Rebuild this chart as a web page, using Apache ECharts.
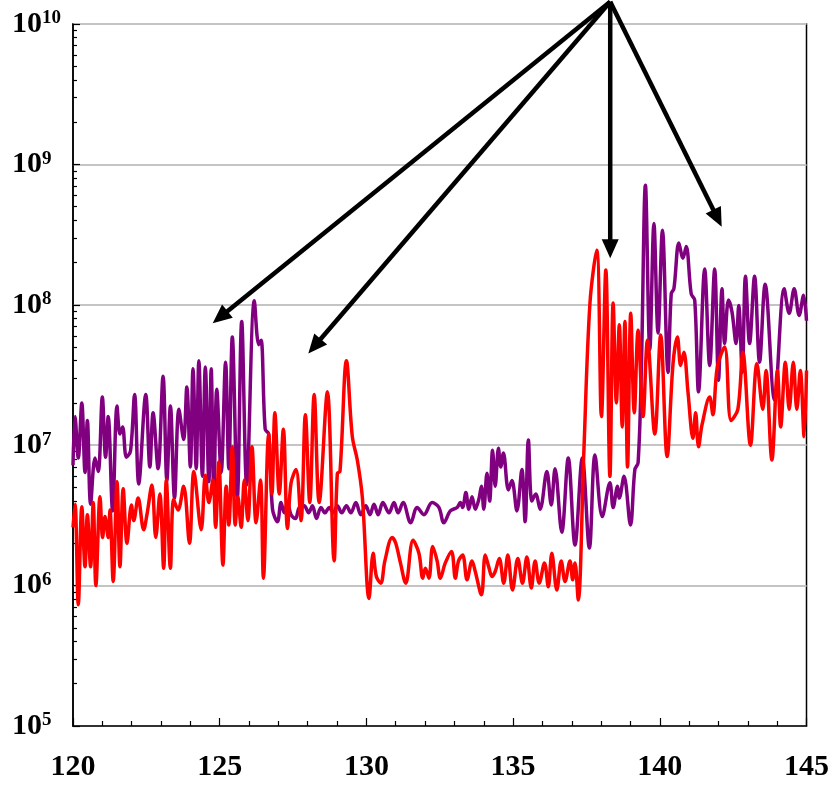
<!DOCTYPE html>
<html>
<head>
<meta charset="utf-8">
<script src="https://cdn.jsdelivr.net/npm/echarts@6/dist/echarts.min.js"></script>
<style>
html,body{margin:0;padding:0;background:#fff;}
#chart{width:832px;height:786px;}
</style>
</head>
<body>
<div id="chart"></div>
<script>
// ---- data (x, value) ----
const purple = [
[120.00,7.2e6],[120.07,1.6e7],[120.18,8.1e6],[120.30,2.0e7],[120.41,6.4e6],[120.49,1.5e7],[120.60,3.8e6],[120.75,8.1e6],[120.86,6.5e6],[121.00,2.2e7],
[121.11,8.2e6],[121.20,1.6e7],[121.35,3.4e6],[121.50,1.9e7],[121.60,1.2e7],[121.69,1.35e7],[121.82,8.2e6],[121.96,9.1e6],[122.10,2.3e7],[122.24,5.3e6],
[122.48,2.3e7],[122.62,7.0e6],[122.73,1.7e7],[122.90,6.8e6],[123.07,3.1e7],[123.20,5.6e6],[123.32,1.9e7],[123.46,4.2e6],[123.61,1.8e7],[123.77,1.1e7],
[123.88,2.6e7],[124.00,7.0e6],[124.09,3.5e7],[124.20,6.8e6],[124.29,4.0e7],[124.41,6.0e6],[124.51,3.6e7],[124.63,5.5e6],[124.71,3.5e7],[124.80,4.5e6],
[124.90,2.5e7],[125.05,6.4e6],[125.20,3.9e7],[125.31,6.8e6],[125.43,5.9e7],[125.60,4.2e6],[125.75,7.6e7],[125.92,5.2e6],[126.18,1.07e8],[126.33,5.2e7],
[126.41,5.6e7],[126.55,1.3e7],[126.67,1.2e7],[126.80,3.5e6],[126.97,2.85e6],[127.09,3.9e6],[127.20,3.3e6],[127.31,3.9e6],[127.43,3.2e6],[127.58,3.0e6],
[127.71,3.6e6],[127.88,3.7e6],[128.03,3.3e6],[128.16,3.7e6],[128.30,3.0e6],[128.45,3.6e6],[128.59,3.3e6],[128.73,3.6e6],[128.87,3.3e6],[129.01,3.7e6],
[129.16,3.3e6],[129.32,3.7e6],[129.47,3.3e6],[129.64,3.9e6],[129.81,3.2e6],[129.98,3.7e6],[130.12,3.2e6],[130.26,3.8e6],[130.40,3.2e6],[130.56,3.9e6],
[130.77,3.3e6],[130.94,3.9e6],[131.08,3.3e6],[131.25,3.9e6],[131.51,2.8e6],[131.73,3.6e6],[131.96,3.2e6],[132.24,3.9e6],[132.47,3.6e6],[132.64,2.8e6],
[132.86,3.4e6],[133.09,3.6e6],[133.20,3.9e6],[133.28,3.6e6],[133.39,4.6e6],[133.49,3.5e6],[133.60,4.3e6],[133.71,3.5e6],[133.83,4.1e6],[133.92,5.1e6],
[134.00,3.5e6],[134.11,6.3e6],[134.20,4.0e6],[134.30,9.2e6],[134.39,5.1e6],[134.50,9.5e6],[134.58,7.0e6],[134.67,8.8e6],[134.84,4.8e6],[134.96,5.6e6],
[135.13,3.4e6],[135.30,6.7e6],[135.41,2.85e6],[135.52,1.09e7],[135.64,4.0e6],[135.77,4.5e6],[135.92,3.5e6],[136.15,6.5e6],[136.30,3.75e6],[136.43,6.8e6],
[136.66,2.4e6],[136.88,8.1e6],[137.11,1.95e6],[137.36,8.1e6],[137.60,1.85e6],[137.79,8.5e6],[138.04,3.1e6],[138.30,5.4e6],[138.41,3.6e6],[138.56,5.1e6],
[138.62,4.2e6],[138.78,6.0e6],[139.00,2.7e6],[139.15,6.7e6],[139.26,7.5e6],[139.37,3.4e7],[139.51,7.1e8],[139.66,4.8e7],[139.80,3.8e8],[139.94,6.3e7],
[140.09,3.4e8],[140.28,3.3e7],[140.39,1.2e8],[140.48,1.3e8],[140.65,2.75e8],[140.79,2.15e8],[140.90,2.6e8],[141.07,1.2e8],[141.19,1.08e8],[141.32,2.4e7],
[141.53,1.8e8],[141.70,3.7e7],[141.87,1.8e8],[142.00,2.9e7],[142.12,1.3e8],[142.21,5.3e7],[142.34,1.08e8],[142.46,8.9e7],[142.60,5.3e7],[142.69,9.9e7],
[142.81,3.3e7],[142.92,1.6e8],[143.06,5.3e7],[143.23,1.6e8],[143.40,3.9e7],[143.59,1.4e8],[143.91,2.1e7],[144.24,1.3e8],[144.41,8.7e7],[144.58,1.3e8],
[144.75,8.4e7],[144.90,1.17e8],[145.00,7.7e7]
];
const red = [
[120.00,2.6e6],[120.07,3.8e6],[120.18,7.3e5],[120.30,3.65e6],[120.41,1.36e6],[120.49,3.2e6],[120.60,1.36e6],[120.69,3.9e6],[120.78,1.0e6],[120.92,4.3e6],
[121.01,2.2e6],[121.09,3.1e6],[121.20,2.2e6],[121.26,3.45e6],[121.37,1.07e6],[121.50,5.5e6],[121.60,1.36e6],[121.71,4.9e6],[121.84,2.0e6],[121.99,3.75e6],
[122.07,2.9e6],[122.22,4.2e6],[122.41,2.5e6],[122.52,3.2e6],[122.69,5.2e6],[122.82,2.2e6],[122.96,4.5e6],[123.09,1.33e6],[123.18,5.65e6],[123.32,1.33e6],
[123.43,4.1e6],[123.58,3.45e6],[123.77,5.1e6],[123.97,2.0e6],[124.12,6.5e6],[124.37,2.5e6],[124.51,6.1e6],[124.63,3.9e6],[124.77,5.65e6],[124.86,2.6e6],
[124.97,7.6e6],[125.11,1.4e6],[125.22,5.1e6],[125.31,2.7e6],[125.43,9.75e6],[125.53,2.7e6],[125.62,4.3e6],[125.73,2.6e6],[125.84,5.65e6],[125.96,2.9e6],
[126.10,9.75e6],[126.24,2.8e6],[126.39,5.65e6],[126.49,1.13e6],[126.67,1.2e7],[126.78,4.5e6],[126.88,1.7e7],[127.03,4.5e6],[127.17,1.3e7],[127.31,2.55e6],
[127.43,5.35e6],[127.60,6.7e6],[127.77,2.9e6],[127.92,1.65e7],[128.07,3.9e6],[128.22,2.3e7],[128.39,3.9e6],[128.67,2.4e7],[128.90,1.5e6],[129.01,6.3e6],
[129.10,6.5e6],[129.32,4.0e7],[129.52,1.15e7],[129.69,7.85e6],[129.86,4.3e6],[130.09,8.1e5],[130.23,1.7e6],[130.34,1.16e6],[130.49,1.04e6],[130.63,1.5e6],
[130.88,2.2e6],[131.00,2.0e6],[131.16,1.45e6],[131.34,1.04e6],[131.59,2.1e6],[131.79,1.7e6],[131.92,1.13e6],[132.01,1.33e6],[132.13,1.13e6],[132.26,1.9e6],
[132.41,1.5e6],[132.52,1.13e6],[132.69,1.45e6],[132.90,1.75e6],[133.03,1.13e6],[133.14,1.5e6],[133.28,1.65e6],[133.43,1.1e6],[133.60,1.5e6],[133.71,1.26e6],
[133.92,8.6e5],[134.05,1.65e6],[134.17,1.36e6],[134.28,1.16e6],[134.39,1.26e6],[134.53,1.56e6],[134.68,1.04e6],[134.82,1.65e6],[134.98,9.3e5],[135.16,1.56e6],
[135.32,1.04e6],[135.47,1.6e6],[135.62,9.6e5],[135.75,1.5e6],[135.89,1.04e6],[136.07,1.45e6],[136.20,9.8e5],[136.32,1.7e6],[136.49,9.3e5],[136.64,1.5e6],
[136.77,1.07e6],[136.94,1.5e6],[137.03,1.1e6],[137.11,1.45e6],[137.22,7.9e5],[137.41,8.8e6],[137.62,1.03e8],[137.85,2.45e8],[138.01,1.6e7],[138.16,1.77e8],
[138.30,6.0e6],[138.41,1.03e8],[138.52,2.0e7],[138.62,7.2e7],[138.72,1.35e7],[138.81,7.6e7],[138.90,7.0e6],[139.01,8.7e7],[139.13,1.7e7],[139.26,6.6e7],
[139.43,1.6e7],[139.58,5.6e7],[139.83,1.2e7],[140.03,6.1e7],[140.25,8.3e6],[140.45,3.8e7],[140.60,5.9e7],[140.71,3.7e7],[140.82,4.6e7],[140.96,2.4e7],
[141.13,1.12e7],[141.22,1.7e7],[141.32,9.75e6],[141.44,1.4e7],[141.70,2.2e7],[141.81,1.65e7],[141.96,3.6e7],[142.21,5.0e7],[142.43,1.5e7],[142.66,1.8e7],
[142.83,4.6e7],[143.09,1.0e7],[143.31,3.8e7],[143.51,1.8e7],[143.62,3.4e7],[143.82,7.85e6],[144.01,3.4e7],[144.12,1.35e7],[144.28,3.9e7],[144.41,1.8e7],
[144.55,3.9e7],[144.67,1.8e7],[144.79,3.4e7],[144.92,1.15e7],[145.00,3.4e7]
];
const xTicks = [120, 125, 130, 135, 140, 145];
const yExponents = [5, 6, 7, 8, 9, 10];
// annotation arrows: common origin and four targets, in data coordinates
const arrowOrigin = [138.31, 1.44e10];
const arrowTargets = [[124.76, 7.4e7], [128.02, 4.5e7], [138.31, 2.15e8], [142.11, 3.6e8]];

const FONT = "'Liberation Serif','Times New Roman',serif";
const minorVals = [];
for (let e = yExponents[0]; e < yExponents[yExponents.length - 1]; e++) {
  for (let m = 2; m <= 9; m++) minorVals.push(m * Math.pow(10, e));
}

const chart = echarts.init(document.getElementById('chart'), null, {renderer: 'canvas'});
const option = {
  animation: false,
  backgroundColor: '#fff',
  grid: {left: 73, right: 23, top: 24, bottom: 60, show: true, borderColor: '#000', borderWidth: 1.5, backgroundColor: 'transparent'},
  xAxis: {
    type: 'value', min: xTicks[0], max: xTicks[xTicks.length - 1], interval: 5,
    axisLine: {lineStyle: {color: '#000', width: 1.5}},
    axisTick: {inside: true, length: 8, lineStyle: {color: '#000', width: 1.2}},
    minorTick: {show: true, splitNumber: 5, length: 5, lineStyle: {color: '#000', width: 1.2}},
    splitLine: {show: false},
    axisLabel: {color: '#000', fontFamily: FONT, fontWeight: 'bold', fontSize: 30, margin: 26,
      formatter: v => String(v)}
  },
  yAxis: [{
    type: 'log', min: Math.pow(10, yExponents[0]), max: Math.pow(10, yExponents[yExponents.length - 1]), logBase: 10,
    axisLine: {show: true, lineStyle: {color: '#000', width: 1.5}},
    axisTick: {show: true, inside: true, length: 7, lineStyle: {color: '#000', width: 1.2}},
    splitLine: {show: true, lineStyle: {color: '#c4c4c4', width: 2}},
    axisLabel: {
      align: 'left', margin: 61, color: '#000',
      formatter: v => {
        const e = Math.round(Math.log10(v));
        return yExponents.indexOf(e) >= 0 ? '{b|10}{s|' + e + '}' : '';
      },
      rich: {
        b: {fontFamily: FONT, fontWeight: 'bold', fontSize: 30, color: '#000', lineHeight: 30},
        s: {fontFamily: FONT, fontWeight: 'bold', fontSize: 19, color: '#000', verticalAlign: 'top', lineHeight: 18}
      }
    }
  }, {
    type: 'log', min: Math.pow(10, yExponents[0]), max: Math.pow(10, yExponents[yExponents.length - 1]), logBase: 10,
    position: 'left',
    axisLine: {show: false},
    axisLabel: {show: false},
    splitLine: {show: false},
    axisTick: {show: true, inside: true, length: 4, customValues: minorVals, lineStyle: {color: '#000', width: 1.2}}
  }],
  series: [{
    name: 'purple', type: 'line', data: purple, yAxisIndex: 0, showSymbol: false, smooth: 0.35,
    lineStyle: {color: '#800080', width: 3.5}, itemStyle: {color: '#800080'}, z: 2
  }, {
    name: 'red', type: 'line', data: red, yAxisIndex: 0, showSymbol: false, smooth: 0.35,
    lineStyle: {color: '#ff0000', width: 3.5}, itemStyle: {color: '#ff0000'}, z: 3
  }]
};
chart.setOption(option);

function drawArrows() {
  const o = chart.convertToPixel({xAxisIndex: 0, yAxisIndex: 0}, arrowOrigin);
  const els = [];
  const headLen = 19, headHalf = 8.5;
  arrowTargets.forEach(t => {
    const p = chart.convertToPixel({xAxisIndex: 0, yAxisIndex: 0}, t);
    const dx = p[0] - o[0], dy = p[1] - o[1];
    const L = Math.sqrt(dx * dx + dy * dy);
    const ux = dx / L, uy = dy / L;
    const bx = p[0] - ux * headLen, by = p[1] - uy * headLen;
    const nx = -uy, ny = ux;
    els.push({type: 'line', z: 100, shape: {x1: o[0], y1: o[1], x2: bx + ux * 2, y2: by + uy * 2},
      style: {stroke: '#000', lineWidth: 4.5}});
    els.push({type: 'polygon', z: 100, shape: {points: [[p[0], p[1]], [bx + nx * headHalf, by + ny * headHalf], [bx - nx * headHalf, by - ny * headHalf]]},
      style: {fill: '#000'}});
  });
  chart.setOption({graphic: els});
}
drawArrows();
</script>
</body>
</html>
